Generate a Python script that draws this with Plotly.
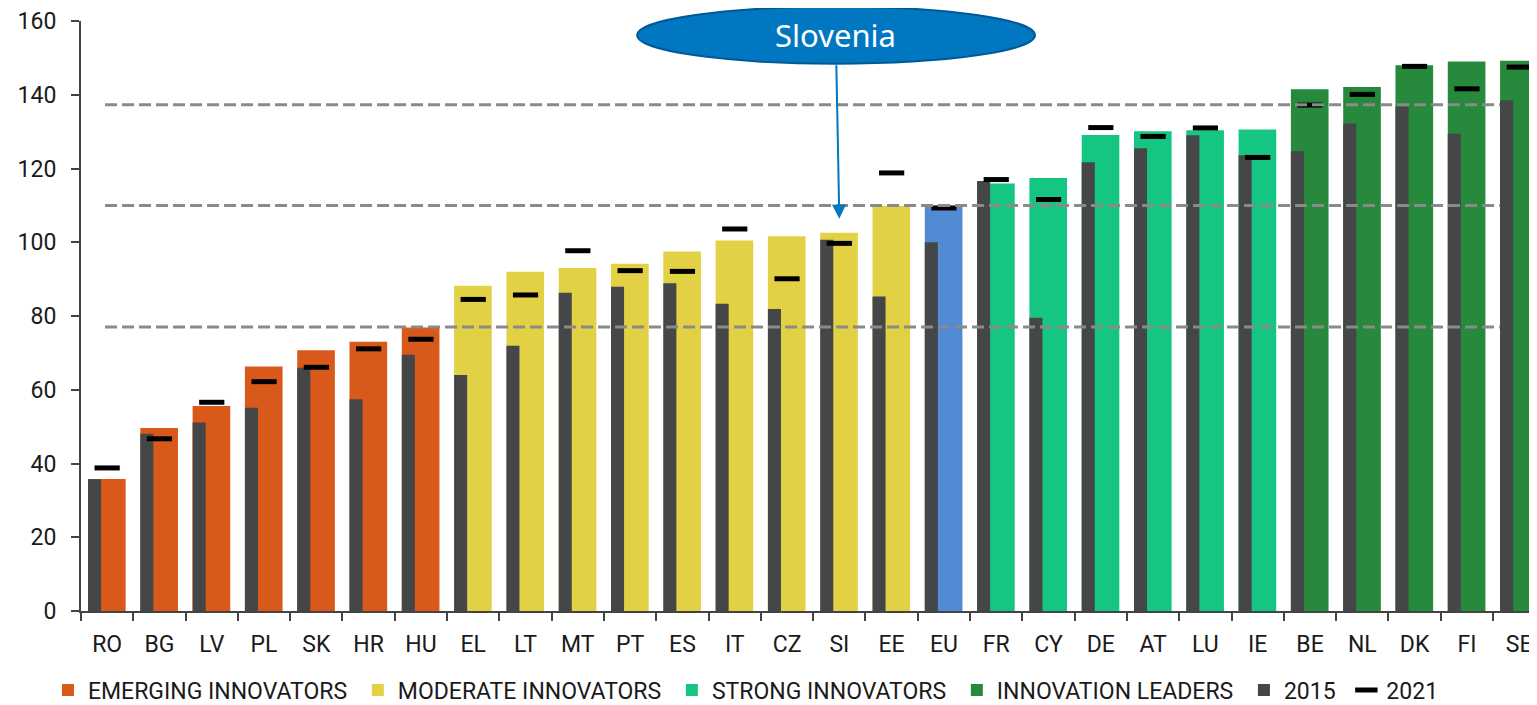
import plotly.graph_objects as go

countries = ["RO","BG","LV","PL","SK","HR","HU","EL","LT","MT","PT","ES","IT","CZ","SI","EE",
             "EU","FR","CY","DE","AT","LU","IE","BE","NL","DK","FI","SE"]

emerging = ["RO","BG","LV","PL","SK","HR","HU"]
moderate = ["EL","LT","MT","PT","ES","IT","CZ","SI","EE"]
eu_group = ["EU"]
strong = ["FR","CY","DE","AT","LU","IE"]
leaders = ["BE","NL","DK","FI","SE"]

perf_2022 = [35.8, 49.6, 55.6, 66.3, 70.7, 73.0, 76.9, 88.2, 92.0, 93.0, 94.2, 97.5, 100.5, 101.6,
             102.6, 109.8, 109.8, 115.9, 117.4, 129.1, 130.1, 130.4, 130.6, 141.5, 142.1, 148.0,
             149.0, 149.2]
perf_2015 = [35.7, 48.1, 51.1, 55.1, 66.0, 57.4, 69.5, 64.0, 71.9, 86.3, 87.9, 88.9, 83.3, 81.9,
             100.7, 85.3, 100.0, 116.6, 79.5, 121.7, 125.5, 129.0, 123.6, 124.7, 132.2, 136.8,
             129.4, 138.5]
perf_2021 = [38.8, 46.7, 56.6, 62.2, 66.1, 71.1, 73.7, 84.5, 85.7, 97.7, 92.3, 92.1, 103.6, 90.1,
             99.7, 118.8, 109.3, 117.0, 111.6, 131.1, 128.7, 131.0, 123.0, 137.2, 140.1, 147.7,
             141.6, 147.5]

thresholds = [77.0, 110.0, 137.3]

val = dict(zip(countries, perf_2022))

NB = "\u00a0"
groups = [
    ("EMERGING INNOVATORS", emerging, "#D9591A", True),
    ("MODERATE INNOVATORS", moderate, "#E3D145", True),
    ("EU", eu_group, "#518BD3", False),
    ("STRONG INNOVATORS", strong, "#15C682", True),
    ("INNOVATION LEADERS", leaders, "#26893C", True),
]

FONT = "Roboto"
TXT = "#1a1a1a"
AX = "#444444"

fig = go.Figure()
for name, members, color, show in groups:
    fig.add_trace(go.Bar(
        x=members, y=[val[c] for c in members], name=name + NB, showlegend=show,
        marker=dict(color=color, line=dict(width=0)),
        width=0.72, offset=-0.366,
    ))

fig.add_trace(go.Bar(
    x=countries, y=perf_2015, name="2015" + NB,
    marker=dict(color="#454648", line=dict(width=0)),
    width=0.25, offset=-0.366,
))

fig.add_trace(go.Scatter(
    x=countries, y=perf_2021, name="2021", mode="markers",
    marker=dict(symbol="line-ew", size=18, color="black",
                line=dict(color="black", width=5)),
))

for t in thresholds:
    fig.add_shape(type="line", xref="x", yref="y", x0=-0.04, x1=26.63, y0=t, y1=t,
                  line=dict(color="#8a8a8a", width=3, dash="12px,5px"), layer="above")

# Slovenia callout
fig.add_shape(type="circle", xref="paper", yref="paper",
              x0=0.3819, x1=0.6552, y0=0.9276, y1=1.0243,
              fillcolor="#0077C0", line=dict(color="#005A96", width=2), layer="above")
fig.add_annotation(x=0.5185, y=0.977, xref="paper", yref="paper", text="Slovenia",
                   xanchor="center", yanchor="middle",
                   showarrow=False, font=dict(family="Noto Sans", size=31, color="white"))
fig.add_annotation(x="SI", y=106.4, xref="x", yref="y", text="", showarrow=True,
                   ax=-3, ay=-155, axref="pixel", ayref="pixel",
                   arrowhead=2, arrowsize=1.4, arrowwidth=2, arrowcolor="#0077C0")

# page body has an 8px default margin, so the figure is sized to end at the window edge
fig.update_layout(
    width=1529, height=697,
    margin=dict(l=73, r=0, t=13, b=94, pad=0, autoexpand=False),
    plot_bgcolor="white", paper_bgcolor="white",
    barmode="overlay",
    font=dict(family=FONT, size=23, color=TXT),
    showlegend=True,
    legend=dict(orientation="h", x=-0.0227, xanchor="left", y=-0.134, yanchor="middle",
                font=dict(family=FONT, size=23, color=TXT), bgcolor="rgba(0,0,0,0)",
                traceorder="normal"),
)
fig.update_xaxes(
    type="category", categoryorder="array", categoryarray=countries,
    range=[-0.5, 27.34], showgrid=False, showline=True, linecolor=AX, linewidth=2,
    ticks="outside", tickson="boundaries", ticklen=8, tickwidth=2, tickcolor=AX,
    tickfont=dict(family=FONT, size=23, color=TXT), ticklabelstandoff=11, automargin=False,
)
fig.update_yaxes(
    range=[0, 160], tickvals=[0, 20, 40, 60, 80, 100, 120, 140, 160],
    showgrid=False, zeroline=False, showline=True, linecolor=AX, linewidth=2,
    ticks="outside", ticklen=8, tickwidth=2, tickcolor=AX,
    tickfont=dict(family=FONT, size=23, color=TXT), ticklabelstandoff=10, automargin=False,
)

fig.write_html("out.html")
